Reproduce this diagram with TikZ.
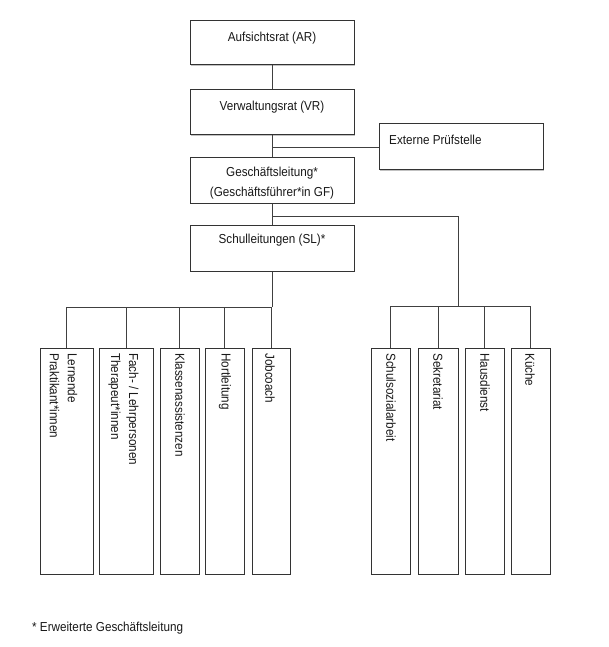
\documentclass[tikz,border=0pt]{standalone}
\usepackage{fontspec}
\setmainfont[FakeStretch=0.9]{Liberation Sans}
\usetikzlibrary{shadows}
\begin{document}
\begin{tikzpicture}[x=1pt,y=-1pt,
  box/.style={draw=black!80, line width=1pt, fill=white, inner sep=0pt,
    drop shadow={shadow xshift=1.4pt, shadow yshift=-1.4pt, opacity=0.4, fill=black!60}},
  lbl/.style={inner sep=0pt, font=\fontsize{13}{19}\selectfont, text=black!90},
  conn/.style={draw=black!75, line width=0.9pt}]
\useasboundingbox (0,0) rectangle (609,647);
\fill[white] (0,0) rectangle (609,647);

% top boxes
\node[box, minimum width=164pt, minimum height=44pt] (ar) at (272,43) {};
\node[lbl] (art) at (272,38) {Aufsichtsrat (AR)};
\node[box, minimum width=164pt, minimum height=45pt] (vr) at (272,112.5) {};
\node[lbl] (vrt) at (272,107) {Verwaltungsrat (VR)};
\node[box, minimum width=164pt, minimum height=46pt] (ext) at (461,147) {};
\node[lbl, anchor=west] (extt) at (389,140) {Externe Prüfstelle};
\node[box, minimum width=164pt, minimum height=45pt] (gl) at (272,180.5) {};
\node[lbl, align=center, font=\fontsize{13}{20}\selectfont] (glt) at (272,183) {Geschäftsleitung*\\(Geschäftsführer*in GF)};
\node[box, minimum width=164pt, minimum height=46pt] (sl) at (272,248) {};
\node[lbl] (slt) at (272,240) {Schulleitungen (SL)*};

% bottom left boxes
\node[box, minimum width=53pt, minimum height=226pt] (b1) at (66.5,461) {};
\node[box, minimum width=54pt, minimum height=226pt] (b2) at (126,461) {};
\node[box, minimum width=39pt, minimum height=226pt] (b3) at (179.5,461) {};
\node[box, minimum width=39pt, minimum height=226pt] (b4) at (224.5,461) {};
\node[box, minimum width=38pt, minimum height=226pt] (b5) at (271,461) {};
% bottom right boxes
\node[box, minimum width=39pt, minimum height=226pt] (r1) at (390.5,461) {};
\node[box, minimum width=40pt, minimum height=226pt] (r2) at (438,461) {};
\node[box, minimum width=39pt, minimum height=226pt] (r3) at (484.5,461) {};
\node[box, minimum width=39pt, minimum height=226pt] (r4) at (530.5,461) {};

% rotated labels
\node[lbl, rotate=-90, anchor=west, align=left, font=\fontsize{13}{18}\selectfont] (b1t) at (63.5,353) {Lernende\\Praktikant*innen};
\node[lbl, rotate=-90, anchor=west, align=left, font=\fontsize{13}{18}\selectfont] (b2t) at (123.5,353) {Fach- / Lehrpersonen\\Therapeut*innen};
\node[lbl, rotate=-90, anchor=west] (b3t) at (180,353) {Klassenassistenzen};
\node[lbl, rotate=-90, anchor=west] (b4t) at (225,353) {Hortleitung};
\node[lbl, rotate=-90, anchor=west] (b5t) at (270,353) {Jobcoach};
\node[lbl, rotate=-90, anchor=west] (r1t) at (391,353) {Schulsozialarbeit};
\node[lbl, rotate=-90, anchor=west] (r2t) at (438,353) {Sekretariat};
\node[lbl, rotate=-90, anchor=west] (r3t) at (485,353) {Hausdienst};
\node[lbl, rotate=-90, anchor=west] (r4t) at (530,353) {Küche};

% footnote
\node[lbl, anchor=west] (fn) at (32,628) {* Erweiterte Geschäftsleitung};

% connectors
\draw[conn] (ar.south) -- (vr.north);
\draw[conn] (vr.south) -- (gl.north);
\coordinate (extj) at (vr.south |- ext.west);
\draw[conn] (extj) -- (ext.west);
\draw[conn] (gl.south) -- (sl.north);
\coordinate (glj) at (272,216);
\coordinate (rtop) at (458,216);
\coordinate (rbar) at (458,306);
\draw[conn] (glj) -- (rtop) -- (rbar);
\draw[conn] (r1.north |- rbar) -- (r4.north |- rbar);
\foreach \n in {r1,r2,r3,r4} {\draw[conn] (\n.north |- rbar) -- (\n.north);}
\coordinate (lbar) at (272,307);
\draw[conn] (sl.south) -- (lbar);
\draw[conn] (b1.north |- lbar) -- (lbar);
\foreach \n in {b1,b2,b3,b4,b5} {\draw[conn] (\n.north |- lbar) -- (\n.north);}
\end{tikzpicture}
\end{document}
